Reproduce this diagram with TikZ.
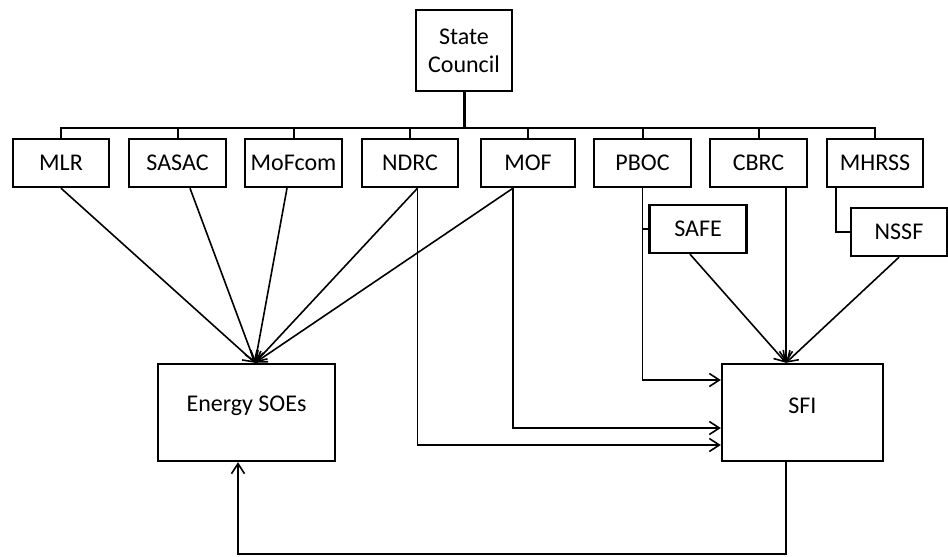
\documentclass[tikz,border=0pt]{standalone}
\usepackage{fontspec}
\setmainfont{Carlito}
\usetikzlibrary{arrows.meta,calc}
\begin{document}
\begin{tikzpicture}[x=1pt,y=-1pt,
  lbl/.style={font=\fontsize{24}{28}\selectfont},
  box/.style={draw, line width=2.4pt, minimum width=96pt, minimum height=48pt, inner sep=0pt, lbl},
  conn/.style={line width=1.6pt},
  arr/.style={conn, -{Straight Barb[length=10pt,width=13pt,line width=1.6pt]}},
]
\useasboundingbox (0,0) rectangle (948,557);
% top
\node[box, minimum height=81pt, align=center] (sc) at (464,50.5) {State\\Council};
\coordinate (bus) at (464,128);
% row of ministries
\node[box] (mlr)    at (61,163)    {MLR};
\node[box, minimum width=97pt] (sasac)  at (177.5,163) {SASAC};
\node[box, minimum width=97pt] (mofcom) at (293.5,163) {MoFcom};
\node[box] (ndrc)   at (410,163)   {NDRC};
\node[box, minimum width=94pt] (mof)    at (528,163)   {MOF};
\node[box, minimum width=97pt] (pboc)   at (642.5,163) {PBOC};
\node[box, minimum width=97pt] (cbrc)   at (758.5,163) {CBRC};
\node[box] (mhrss)  at (875,163)   {MHRSS};
\node[box, minimum width=97pt] (safe) at (698,229) {SAFE};
\node[box] (nssf) at (899,232) {NSSF};
% lower boxes
\node[box, minimum width=177pt, minimum height=97pt] (soe) at (246.5,412.5) {};
\node[lbl] (soetxt) at (246.5,406) {Energy SOEs};
\node[box, minimum width=161pt, minimum height=97pt] (sfi) at (802.5,412.5) {};
\node[lbl] (sfitxt) at (802.5,406) {SFI};
% hierarchy lines
\draw[line width=3pt] (sc.south) -- (bus);
\foreach \b in {mlr,sasac,mofcom,ndrc,mof,pboc,cbrc,mhrss}
  \draw[line width=2pt] (\b.north) |- (bus);
% arrows to Energy SOEs
\coordinate (soein) at ($(soe.north)+(8.5,0)$);
\draw[arr] (mlr.south) -- (soein);
\draw[arr] ($(sasac.south)+(12.5,0)$) -- (soein);
\draw[arr] ($(mofcom.south)+(-6.5,0)$) -- (soein);
\draw[arr] ($(ndrc.south)+(7.5,0)$) -- (soein);
\draw[arr] ($(mof.south)+(-15,0)$) -- (soein);
% arrows to SFI
\coordinate (sfiin) at ($(sfi.north)+(-16.5,0)$);
\draw[arr] ($(ndrc.south)+(7.5,0)$) |- ($(sfi.west)+(0,32.5)$);
\draw[arr] ($(mof.south)+(-15,0)$) |- ($(sfi.west)+(0,15.5)$);
\draw[arr] (pboc.south) |- ($(sfi.west)+(0,-32.5)$);
\draw[conn] (pboc.south) |- (safe.west);
\draw[conn] ($(mhrss.south west)+(10,0)$) |- (nssf.west);
\draw[arr] ($(cbrc.south)+(27.5,0)$) -- (sfiin);
\draw[arr] ($(safe.south)+(-8,0)$) -- (sfiin);
\draw[arr] (nssf.south) -- (sfiin);
% feedback
\coordinate (fbout) at (sfiin |- sfi.south);
\draw[arr] (fbout) -- ++(0,92) -| ($(soe.south)+(-8.5,0)$);
\end{tikzpicture}
\end{document}
